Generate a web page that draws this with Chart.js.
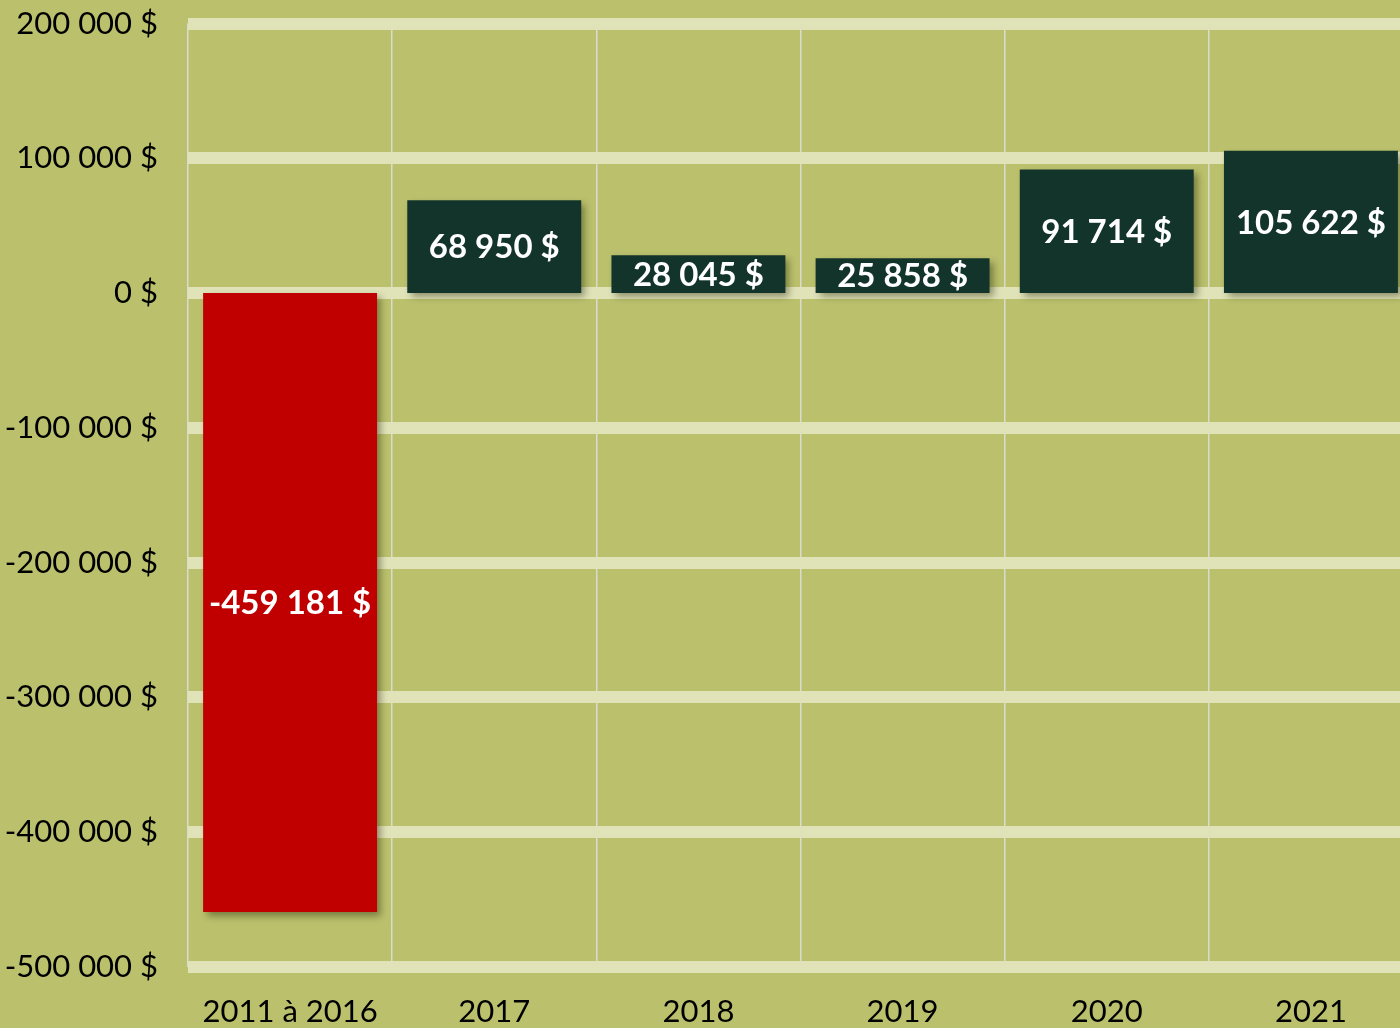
<!DOCTYPE html>
<html>
<head>
<meta charset="utf-8">
<script src="https://cdn.jsdelivr.net/npm/chart.js@4"></script>
<style>
  html, body { margin: 0; padding: 0; background: #bac06c; overflow: hidden; }
  #wrap { width: 1400px; height: 1028px; overflow: hidden; position: relative; }
  canvas { display: block; }
</style>
</head>
<body>
<div id="wrap"><canvas id="solde" width="1413" height="1028"></canvas></div>
<script>
// periods and yearly balance (in $)
const periods = ["2011 à 2016", "2017", "2018", "2019", "2020", "2021"];
const balance = [-459181, 68950, 28045, 25858, 91714, 105622];
const barColors = ["#c00000", "#12342a", "#12342a", "#12342a", "#12342a", "#12342a"];
const yTicks = [200000, 100000, 0, -100000, -200000, -300000, -400000, -500000];

// 100000 -> "100 000 $"
function money(v) {
    const s = Math.abs(Math.round(v)).toString().replace(/\B(?=(\d{3})+(?!\d))/g, " ");
    return (v < 0 ? "-" : "") + s + " $";
}

// drop shadow under the bars
const shadow = {
    id: 'shadow',
    beforeDatasetsDraw(chart) {
        const ctx = chart.ctx;
        ctx.save();
        ctx.shadowColor = 'rgba(40,40,10,0.45)';
        ctx.shadowBlur = 7;
        ctx.shadowOffsetX = 4;
        ctx.shadowOffsetY = 4;
    },
    afterDatasetsDraw(chart) {
        chart.ctx.restore();
    }
};

// value written in the middle of each bar
const valueLabels = {
    id: 'valueLabels',
    afterDatasetsDraw(chart) {
        const ctx = chart.ctx;
        const meta = chart.getDatasetMeta(0);
        ctx.save();
        ctx.fillStyle = '#ffffff';
        ctx.font = 'bold 33px Lato';
        ctx.textAlign = 'center';
        ctx.textBaseline = 'middle';
        meta.data.forEach((bar, i) => {
            const y = (bar.y + bar.base) / 2;
            ctx.fillText(money(balance[i]), bar.x, y + 1);
        });
        ctx.restore();
    }
};

const el = document.getElementById("solde");
new Chart(el, {
    type: 'bar',
    data: {
        labels: periods,
        datasets: [{
            data: balance,
            backgroundColor: barColors,
            borderWidth: 0,
            categoryPercentage: 1,
            barPercentage: 0.852
        }]
    },
    options: {
        responsive: false,
        animation: false,
        layout: { padding: { top: 23.5, right: 0, left: 0, bottom: 0 } },
        plugins: {
            legend: { display: false },
            tooltip: { enabled: false }
        },
        scales: {
            x: {
                grid: { color: '#d9dbd0', lineWidth: 1.5, drawTicks: false },
                border: { display: false },
                ticks: { color: '#000', font: { family: 'Lato', size: 31 }, padding: 26, maxRotation: 0 },
                afterFit(s) { s.height = 61; s.paddingLeft = 0; s.paddingRight = 0; }
            },
            y: {
                min: -500000,
                max: 200000,
                afterBuildTicks(s) { s.ticks = yTicks.map(v => ({ value: v })); },
                grid: { color: '#e0e3b8', lineWidth: 12, drawTicks: false },
                border: { display: false },
                ticks: {
                    color: '#000',
                    font: { family: 'Lato', size: 31 },
                    padding: 30,
                    callback: (v) => money(v)
                },
                afterFit(s) {
                    s.width = 188; s.paddingTop = 0; s.paddingBottom = 0;
                    // bars start right on the zero line, covering it
                    s.getLineWidthForValue = () => 0;
                }
            }
        }
    },
    plugins: [shadow, valueLabels]
});
</script>
</body>
</html>
